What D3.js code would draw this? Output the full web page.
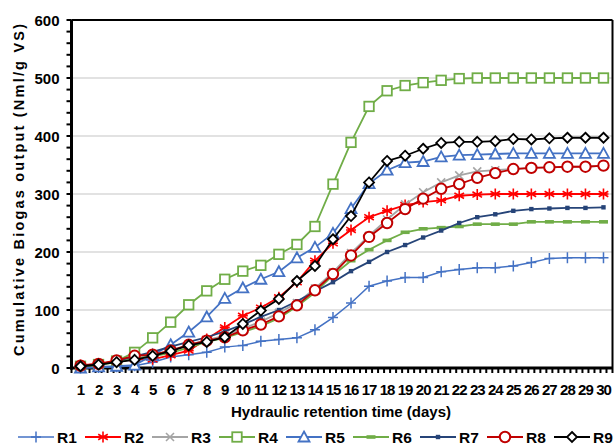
<!DOCTYPE html>
<html>
<head>
<meta charset="utf-8">
<script src="https://cdn.jsdelivr.net/npm/d3@7"></script>
<style>
  body { margin: 0; background: #fff; }
  text { font-family: Arial, "Liberation Sans", sans-serif; font-weight: bold; fill: #000; }
</style>
</head>
<body>
<svg id="chart" width="614" height="446"></svg>
<script>
// Dager
var days = [1, 2, 3, 4, 5, 6, 7, 8, 9, 10, 11, 12, 13, 14, 15, 16, 17, 18, 19, 20, 21, 22, 23, 24, 25, 26, 27, 28, 29, 30];

// Kumulativ biogass per reaktor (Nml/g VS)
var r1 = [0, 1, 2, 4, 10, 19, 23, 27, 36, 39, 46, 49, 52, 66, 87, 112, 141, 150, 156, 156, 166, 170, 173, 173, 176, 182, 189, 190, 190, 190];
var r2 = [5, 7, 12, 15, 15, 22, 30, 50, 70, 90, 104, 122, 148, 185, 215, 238, 260, 271, 281, 286, 289, 297, 299, 300, 300, 300, 300, 300, 300, 300];
var r3 = [3, 6, 11, 16, 22, 30, 40, 48, 56, 68, 80, 95, 112, 137, 165, 198, 228, 256, 282, 303, 320, 332, 339, 341, 343, 345, 346, 347, 347, 349];
var r4 = [3, 6, 12, 27, 52, 79, 109, 133, 153, 167, 177, 196, 213, 244, 317, 389, 451, 478, 487, 492, 496, 499, 500, 500, 500, 500, 500, 500, 500, 500];
var r5 = [0, 2, 3, 5, 22, 40, 62, 88, 120, 138, 153, 166, 190, 208, 232, 275, 318, 341, 354, 356, 364, 367, 368, 369, 370, 370, 370, 370, 370, 370];
var r6 = [2, 5, 10, 16, 20, 26, 35, 45, 52, 62, 72, 86, 106, 130, 160, 185, 204, 220, 234, 240, 242, 244, 248, 248, 248, 252, 252, 252, 252, 252];
var r7 = [3, 6, 12, 20, 28, 37, 45, 53, 63, 75, 88, 100, 115, 132, 148, 167, 183, 200, 212, 225, 237, 250, 260, 265, 271, 274, 275, 276, 276, 277];
var r8 = [4, 7, 13, 21, 23, 30, 40, 47, 53, 65, 75, 89, 108, 134, 162, 194, 226, 250, 274, 292, 309, 317, 328, 336, 343, 345, 346, 347, 347, 349];
var r9 = [3, 6, 10, 14, 21, 29, 39, 45, 53, 76, 99, 119, 150, 176, 222, 262, 320, 357, 366, 378, 388, 390, 390, 391, 395, 394, 396, 397, 397, 397];

var seriesNames = ["R1", "R2", "R3", "R4", "R5", "R6", "R7", "R8", "R9"];
var yTicks = [0, 100, 200, 300, 400, 500, 600];

var series = [
    { name: "R1", values: r1, color: "#4472C4", marker: "plus" },
    { name: "R2", values: r2, color: "#FF0000", marker: "star" },
    { name: "R3", values: r3, color: "#A5A5A5", marker: "cross" },
    { name: "R4", values: r4, color: "#70AD47", marker: "square" },
    { name: "R5", values: r5, color: "#4472C4", marker: "triangle" },
    { name: "R6", values: r6, color: "#70AD47", marker: "dash" },
    { name: "R7", values: r7, color: "#264478", marker: "smallsquare" },
    { name: "R8", values: r8, color: "#C00000", marker: "circle" },
    { name: "R9", values: r9, color: "#000000", marker: "diamond" }
];

var margin = { top: 20, right: 1.5, bottom: 78, left: 71.5 };
var width = 614 - margin.left - margin.right;
var height = 446 - margin.top - margin.bottom;

var svg = d3.select("#chart");
var g = svg.append("g").attr("transform", "translate(" + margin.left + "," + margin.top + ")");

var x = d3.scaleBand().domain(days).range([0, width]).paddingInner(0).paddingOuter(0);
var y = d3.scaleLinear().domain([0, 600]).range([height, 0]);

function cx(d) { return x(d) + x.bandwidth() / 2; }

// Gridlinjer
g.append("g")
    .attr("class", "gridy")
    .selectAll("line")
    .data(yTicks.slice(1, -1))
    .enter().append("line")
    .attr("x1", 0).attr("x2", width)
    .attr("y1", function (d) { return y(d); })
    .attr("y2", function (d) { return y(d); })
    .attr("stroke", "#D9D9D9")
    .attr("stroke-width", 1.5);

// Ramme topp og hoyre
g.append("line").attr("x1", 0).attr("x2", width).attr("y1", 0).attr("y2", 0)
    .attr("stroke", "#000").attr("stroke-width", 2);
g.append("line").attr("x1", width).attr("x2", width).attr("y1", 0).attr("y2", height)
    .attr("stroke", "#000").attr("stroke-width", 2);

// Y-akse med små ticks hver 20
var yMinor = d3.range(0, 601, 20);
g.append("g")
    .attr("class", "y minor")
    .selectAll("line")
    .data(yMinor)
    .enter().append("line")
    .attr("x1", -5).attr("x2", 0)
    .attr("y1", function (d) { return y(d); })
    .attr("y2", function (d) { return y(d); })
    .attr("stroke", "#000").attr("stroke-width", 2);

g.append("g")
    .attr("class", "y labels")
    .selectAll("text")
    .data(yTicks)
    .enter().append("text")
    .attr("x", -12)
    .attr("y", function (d) { return y(d) + 5.5; })
    .attr("text-anchor", "end")
    .style("font-size", "15px")
    .text(function (d) { return d; });

// X-akse: ticks, 3 per kategori
var xMinor = d3.range(0, days.length * 3 + 1).map(function (i) { return i * x.bandwidth() / 3; });
g.append("g")
    .attr("class", "x minor")
    .selectAll("line")
    .data(xMinor)
    .enter().append("line")
    .attr("x1", function (d) { return d; })
    .attr("x2", function (d) { return d; })
    .attr("y1", height).attr("y2", height + 5)
    .attr("stroke", "#000").attr("stroke-width", 2);

g.append("g")
    .attr("class", "x labels")
    .selectAll("text")
    .data(days)
    .enter().append("text")
    .attr("x", function (d) { return cx(d); })
    .attr("y", height + 27)
    .attr("text-anchor", "middle")
    .style("font-size", "15px")
    .style("letter-spacing", "-1px")
    .text(function (d) { return d; });

// Akselinjer venstre og bunn
g.append("line").attr("x1", 0).attr("x2", 0).attr("y1", 0).attr("y2", height + 1.5)
    .attr("stroke", "#000").attr("stroke-width", 3);
g.append("line").attr("x1", -1.5).attr("x2", width).attr("y1", height).attr("y2", height)
    .attr("stroke", "#000").attr("stroke-width", 3);

// Aksetitler
svg.append("text")
    .attr("transform", "translate(24,190) rotate(-90)")
    .attr("text-anchor", "middle")
    .attr("textLength", 332)
    .attr("lengthAdjust", "spacing")
    .style("font-size", "14.5px")
    .text("Cumulative  Biogas  output (Nml/g VS)");

svg.append("text")
    .attr("x", 341)
    .attr("y", 417)
    .attr("text-anchor", "middle")
    .style("font-size", "15px")
    .text("Hydraulic retention time (days)");

// Markorer
function drawMarker(sel, s) {
    if (s.marker === "plus") {
        sel.append("path").attr("d", "M-5,0H5M0,-5.5V5.5")
            .attr("stroke", s.color).attr("stroke-width", 1.5).attr("fill", "none");
    } else if (s.marker === "star") {
        sel.append("path").attr("d", "M0,-5.5V5.5M-4.8,-2.8L4.8,2.8M-4.8,2.8L4.8,-2.8M-5,0H5")
            .attr("stroke", s.color).attr("stroke-width", 1.6).attr("fill", "none");
    } else if (s.marker === "cross") {
        sel.append("path").attr("d", "M-4,-4L4,4M-4,4L4,-4")
            .attr("stroke", s.color).attr("stroke-width", 1.6).attr("fill", "none");
    } else if (s.marker === "square") {
        sel.append("rect").attr("x", -4.75).attr("y", -4.75).attr("width", 9.5).attr("height", 9.5)
            .attr("fill", "#fff").attr("stroke", s.color).attr("stroke-width", 1.8);
    } else if (s.marker === "triangle") {
        sel.append("path").attr("d", "M0,-5.5L5.5,4.5L-5.5,4.5Z")
            .attr("fill", "#fff").attr("stroke", s.color).attr("stroke-width", 1.8);
    } else if (s.marker === "dash") {
        sel.append("rect").attr("x", -4.5).attr("y", -1.8).attr("width", 9).attr("height", 3.6)
            .attr("fill", s.color);
    } else if (s.marker === "smallsquare") {
        sel.append("rect").attr("x", -2.2).attr("y", -2.2).attr("width", 4.4).attr("height", 4.4)
            .attr("fill", s.color);
    } else if (s.marker === "circle") {
        sel.append("circle").attr("r", 5.2)
            .attr("fill", "#fff").attr("stroke", s.color).attr("stroke-width", 2);
    } else if (s.marker === "diamond") {
        sel.append("path").attr("d", "M0,-5L5,0L0,5L-5,0Z")
            .attr("fill", "#fff").attr("stroke", s.color).attr("stroke-width", 1.8);
    }
}

var line = d3.line()
    .x(function (d) { return cx(d.day); })
    .y(function (d) { return y(d.value); });

series.forEach(function (s) {
    var pts = days.map(function (d, i) { return { day: d, value: s.values[i] }; });
    var sg = g.append("g").attr("class", "series " + s.name);
    sg.append("path")
        .datum(pts)
        .attr("d", line)
        .attr("fill", "none")
        .attr("stroke", s.color)
        .attr("stroke-width", s.name === "R1" ? 1.5 : 1.8);
    sg.selectAll(".mk")
        .data(pts)
        .enter().append("g")
        .attr("class", "mk")
        .attr("transform", function (d) { return "translate(" + cx(d.day) + "," + y(d.value) + ")"; })
        .each(function () { drawMarker(d3.select(this), s); });
});

// Legende
var legend = svg.append("g").attr("class", "legend").attr("transform", "translate(18,437)");
var item = legend.selectAll("g")
    .data(series)
    .enter().append("g")
    .attr("transform", function (d, i) { return "translate(" + (i * 67) + ",0)"; });
item.append("line")
    .attr("x1", 0).attr("x2", 36).attr("y1", 0).attr("y2", 0)
    .attr("stroke", function (d) { return d.color; })
    .attr("stroke-width", function (d) { return d.name === "R1" ? 1.5 : 1.8; });
item.each(function (d) {
    var m = d3.select(this).append("g").attr("transform", "translate(18,0)");
    drawMarker(m, d);
});
item.append("text")
    .attr("x", 39)
    .attr("y", 6)
    .style("font-size", "15.5px")
    .text(function (d) { return d.name; });
</script>
</body>
</html>
